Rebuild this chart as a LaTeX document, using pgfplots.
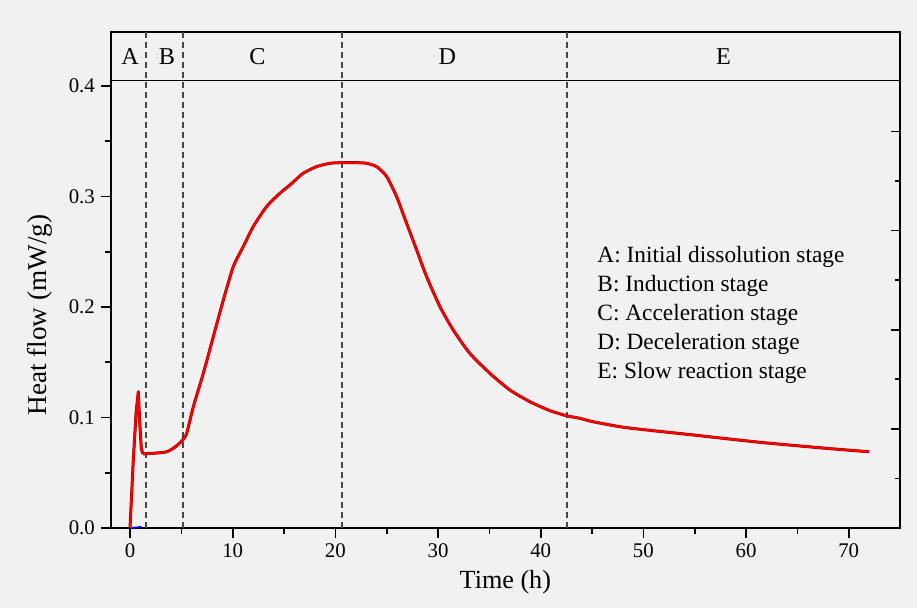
\documentclass[border=0pt]{standalone}
\usepackage{fontspec}
\setmainfont{Liberation Serif}
\usepackage{pgfplots}
\pgfplotsset{compat=1.18}
\definecolor{bg}{RGB}{241,241,241}
\definecolor{dashgray}{RGB}{70,70,70}
\pgfplotstableread{
x y
0 0
0.32 0.0615
0.6 0.105
0.81 0.1233
0.95 0.095
1.1 0.072
1.25 0.067
}\spike
\pgfplotstableread{
x y
1.25 0.067
1.6 0.0672
2.5 0.0678
3.5 0.0688
4.2 0.072
4.8 0.0765
5.13 0.0796
5.52 0.0857
6.17 0.1098
7.14 0.140
8.11 0.173
9.09 0.2063
10.06 0.2365
11.03 0.2546
12.0 0.2727
13.3 0.2908
14.6 0.3029
15.58 0.3104
16.87 0.321
18.18 0.327
19.47 0.330
20.67 0.3306
22.4 0.3305
23.05 0.330
24.02 0.327
25.0 0.318
25.97 0.2998
26.94 0.2757
27.92 0.2516
28.89 0.2274
30.19 0.2003
31.48 0.1792
33.1 0.158
35.05 0.140
37.0 0.1249
38.95 0.1143
40.9 0.1062
42.6 0.1014
43.8 0.0993
45.1 0.0962
48.36 0.0908
54.85 0.0842
61.3 0.0776
67.84 0.0721
72.0 0.069
}\mainc
\begin{document}
\begin{tikzpicture}
\fill[bg] (-66.42pt,-48pt) rectangle (483.78pt,316.8pt);
\begin{axis}[
  at={(0,0)}, anchor=south west, scale only axis,
  width=473.58pt, height=297.78pt,
  xmin=-1.88, xmax=75, ymin=0, ymax=0.4491,
  axis line style={line width=1pt},
  xtick={0,10,...,70}, minor xtick={5,15,...,65},
  ytick={0,0.1,0.2,0.3,0.4}, minor ytick={0.05,0.15,0.25,0.35},
  xtick pos=lower, ytick pos=left,
  tick align=outside,
  major tick length=6pt, minor tick length=3.5pt,
  every tick/.style={black, line width=1pt},
  tick label style={font=\fontsize{12.5}{14}\selectfont},
  /pgf/number format/assume math mode=true,
  yticklabel style={/pgf/number format/.cd, fixed, fixed zerofill, precision=1},
  xticklabel style={/pgf/number format/.cd, fixed, precision=0},
  xlabel={Time (h)}, ylabel={Heat flow (mW/g)},
  xlabel style={font=\fontsize{15.7}{18}\selectfont, at={(axis description cs:0.5,-0.109)}, anchor=center},
  ylabel style={font=\fontsize{16.3}{18}\selectfont, at={(axis description cs:-0.0896,0.429)}, anchor=center},
]
% stage separators
\addplot[dashgray, line width=1.1pt, dash pattern=on 3.6pt off 2.4pt] coordinates {(1.53,0) (1.53,0.4491)};
\addplot[dashgray, line width=1.1pt, dash pattern=on 3.6pt off 2.4pt] coordinates {(5.13,0) (5.13,0.4491)};
\addplot[dashgray, line width=1.1pt, dash pattern=on 3.6pt off 2.4pt] coordinates {(20.67,0) (20.67,0.4491)};
\addplot[dashgray, line width=1.1pt, dash pattern=on 3.6pt off 2.4pt] coordinates {(42.6,0) (42.6,0.4491)};
% band bottom line
\addplot[black, line width=1pt] coordinates {(-1.88,0.4048) (75,0.4048)};
% blue baseline segment
\addplot[blue, line width=1pt] coordinates {(0,0) (1.1,0.001)};
% heat flow curve (dark underlay + red)
\addplot[red!55!black, line width=1.8pt, line join=round] table {\spike};
\addplot[red!55!black, line width=1.8pt, smooth, tension=0.4] table {\mainc};
\addplot[red, line width=1.25pt, line join=round] table {\spike};
\addplot[red, line width=1.25pt, smooth, tension=0.4] table {\mainc};
% stage letters
\node[font=\fontsize{14.5}{16}\selectfont] at (axis cs:0,0.4269) {A};
\node[font=\fontsize{14.5}{16}\selectfont] at (axis cs:3.6,0.4269) {B};
\node[font=\fontsize{14.5}{16}\selectfont] at (axis cs:12.4,0.4269) {C};
\node[font=\fontsize{14.5}{16}\selectfont] at (axis cs:30.9,0.4269) {D};
\node[font=\fontsize{14.5}{16}\selectfont] at (axis cs:57.8,0.4269) {E};
% stage descriptions
\node[font=\fontsize{14}{16}\selectfont, anchor=west, inner sep=0pt, text height=1.6ex, text depth=0.4ex] at (axis cs:45.5,0.2443) {A: Initial dissolution stage};
\node[font=\fontsize{14}{16}\selectfont, anchor=west, inner sep=0pt, text height=1.6ex, text depth=0.4ex] at (axis cs:45.5,0.2181) {B: Induction stage};
\node[font=\fontsize{14}{16}\selectfont, anchor=west, inner sep=0pt, text height=1.6ex, text depth=0.4ex] at (axis cs:45.5,0.1918) {C: Acceleration stage};
\node[font=\fontsize{14}{16}\selectfont, anchor=west, inner sep=0pt, text height=1.6ex, text depth=0.4ex] at (axis cs:45.5,0.1656) {D: Deceleration stage};
\node[font=\fontsize{14}{16}\selectfont, anchor=west, inner sep=0pt, text height=1.6ex, text depth=0.4ex] at (axis cs:45.5,0.1393) {E: Slow reaction stage};
\end{axis}
% right-side inward ticks (independent scale)
\begin{axis}[
  at={(0,0)}, anchor=south west, scale only axis,
  width=473.58pt, height=297.78pt,
  xmin=-1.88, xmax=75, ymin=0, ymax=0.4491,
  hide x axis, axis y line*=right,
  axis line style={line width=1pt},
  ytick={0.0897,0.1794,0.2691,0.3588}, minor ytick={0.0449,0.1346,0.2243,0.3140},
  yticklabels={}, tick align=inside,
  major tick length=5.4pt, minor tick length=3pt,
  every tick/.style={black, line width=1pt},
]
\addplot[draw=none] coordinates {(0,0) (1,0.1)};
\end{axis}
\pgfresetboundingbox
\path (-66.42pt,-48pt) rectangle (483.78pt,316.8pt);
\end{tikzpicture}
\end{document}
